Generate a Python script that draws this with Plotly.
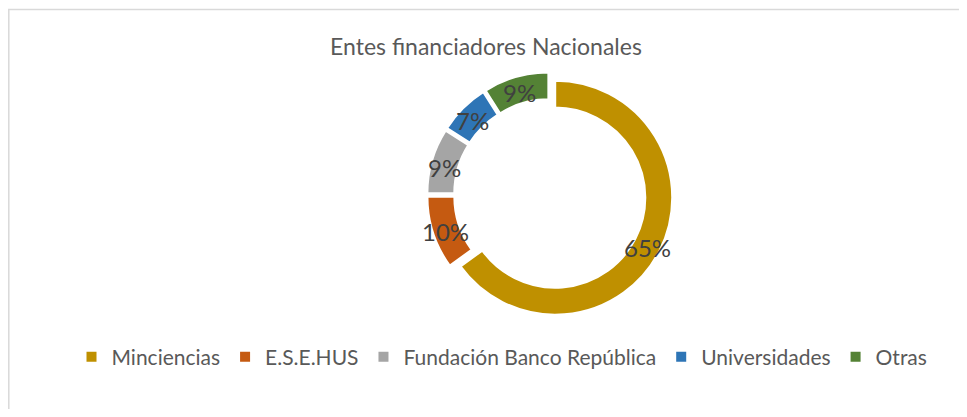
import math
import plotly.graph_objects as go

categories = ["Minciencias", "E.S.E.HUS", "Fundación Banco República", "Universidades", "Otras"]
values = [65, 10, 9, 7, 9]
colors = ["#BF9000", "#C55A11", "#A5A5A5", "#2E75B6", "#548235"]

# page body has an 8px margin, so the figure is sized to fit inside the window
W, H = 951, 401
cx, cy, r, pull, hole = 542, 187, 117, 0.05, 0.77
half = r * (1 + pull)
FONT = "Lato, Open Sans, sans-serif"

fig = go.Figure(go.Pie(
    labels=categories,
    values=values,
    sort=False,
    direction="clockwise",
    rotation=0,
    hole=hole,
    pull=[pull] * len(values),
    marker=dict(colors=colors, line=dict(color="white", width=2)),
    textposition="none",
    hoverinfo="label+percent",
    domain=dict(x=[(cx - half) / W, (cx + half) / W],
                y=[1 - (cy + half) / H, 1 - (cy - half) / H]),
))

# data labels at the middle of each ring segment (derived from the values)
total = sum(values)
annotations = []
start = 0.0
R_lab = r * (1 + hole) / 2 + pull * r
for v in values:
    mid = (start + v / 2) / total
    theta = 2 * math.pi * mid
    x_px = cx + R_lab * math.sin(theta)
    y_px = cy - R_lab * math.cos(theta) + 3
    annotations.append(dict(
        x=x_px / W, y=1 - y_px / H, xref="paper", yref="paper",
        text=f"{round(100 * v / total)}%", showarrow=False,
        xanchor="center", yanchor="middle",
        font=dict(family=FONT, size=24, color="#404040")))
    start += v

fig.update_layout(
    width=W, height=H,
    margin=dict(l=0, r=0, t=0, b=0),
    paper_bgcolor="white",
    annotations=annotations,
    title=dict(text="Entes financiadores Nacionales", x=478 / W, xanchor="center",
               y=1 - 39 / H, yanchor="middle",
               font=dict(family=FONT, size=23, color="#595959")),
    legend=dict(orientation="h", x=494 / W, xanchor="center", y=1 - 349 / H, yanchor="middle",
                font=dict(family=FONT, size=21, color="#595959"),
                itemwidth=30, tracegroupgap=0),
    shapes=[dict(type="rect", xref="paper", yref="paper", x0=0.8 / W, x1=1.02, y0=-0.02,
                 y1=1 - 1.5 / H, line=dict(color="#D9D9D9", width=1.5))],
)

fig.write_html("out.html")
